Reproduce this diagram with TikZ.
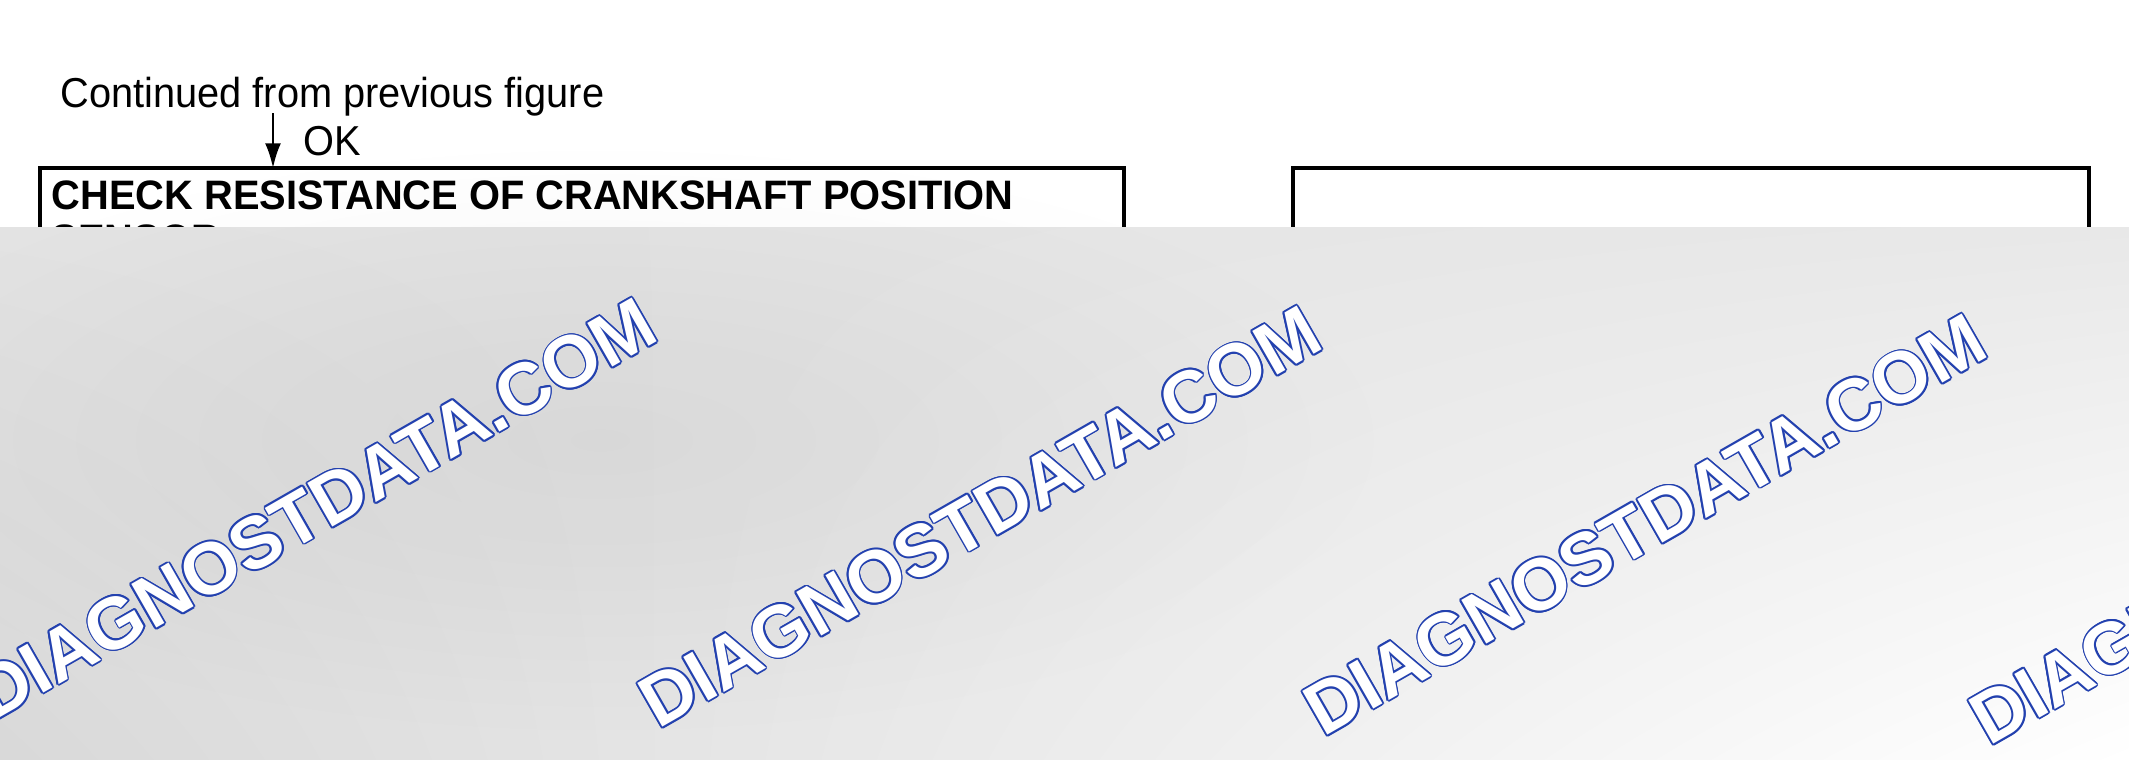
\documentclass[tikz,border=0pt]{standalone}
\usepackage{fontspec}
\setmainfont{Liberation Sans}
\newfontfamily\headfont[FakeStretch=0.968]{Liberation Sans}
\newfontfamily\contfont[FakeStretch=0.95]{Liberation Sans}
\usetikzlibrary{arrows.meta,shadings,fadings}
\definecolor{wmblue}{RGB}{35,65,175}
\tikzfading[name=softspot, inner color=transparent!0, outer color=transparent!100]
\tikzset{
  txt/.style={anchor=base west, inner sep=0pt, font=\contfont\fontsize{11.9}{12.6}\selectfont},
  headtxt/.style={txt, font=\headfont\bfseries\fontsize{11.7}{12.6}\selectfont},
  boxline/.style={draw, line width=0.9pt},
  wm/.style={anchor=base west, rotate=29.8, inner sep=0pt, font=\bfseries\fontsize{20.8}{24}\selectfont}
}
\begin{document}
\begin{tikzpicture}[x=0.01cm,y=-0.01cm]
\def\wmtext{DIAGNOSTDATA.COM}
\useasboundingbox[fill=white] (0,0) rectangle (2129,759);
\node[txt] (cont) at (60,107) {Continued from previous figure};
\node[txt] (ok) at (303,155) {OK};
% the two boxes of the next step
\draw[boxline] (40,800) |- (1124,168) -- (1124,800);
\draw[boxline] (1293,800) |- (2089,168) -- (2089,800);
\node[headtxt] (chk) at (51,209) {CHECK RESISTANCE OF CRANKSHAFT POSITION};
\node[headtxt] (sen) at (51,253) {SENSOR};
\coordinate (okfrom) at (273,113);
\coordinate (chktop) at (273,168);
\draw[-{Latex[length=7pt,width=4.5pt]}, line width=0.65pt] (okfrom) -- (chktop);
% grey band
\shade[upper left=black!11, upper right=black!9, lower left=black!15, lower right=white]
  (0,227) rectangle (2129,759);
\fill[black, opacity=0.05, path fading=softspot] (600,440) ellipse (800 and 300);
    \foreach \wx/\wy in {-7/722, 658/730, 1323/738, 1989/747} {
      \foreach \a in {0,30,...,330}
        \node[wm, text=wmblue, shift={(\a:0.5pt)}] at (\wx,\wy) {\wmtext};
      \node[wm, text=white] at (\wx,\wy) {\wmtext};
    }
\end{tikzpicture}
\end{document}
